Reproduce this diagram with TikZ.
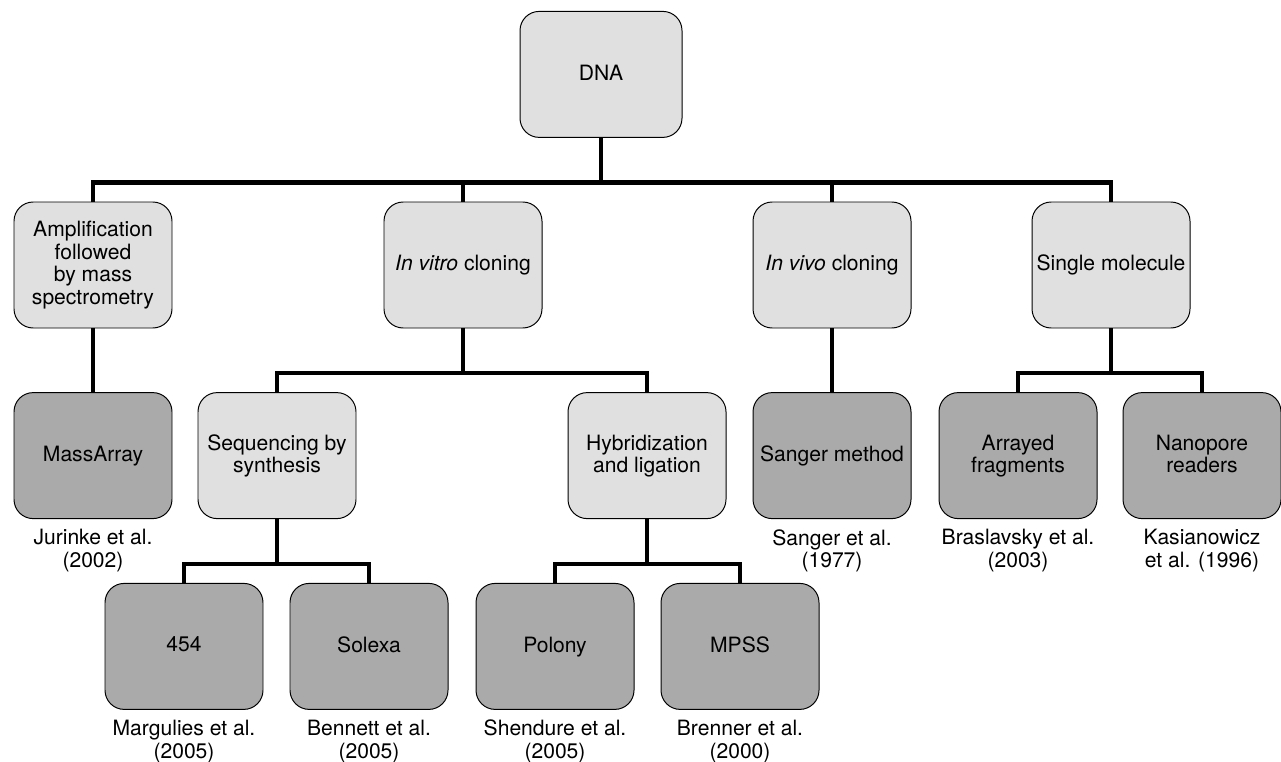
\documentclass[tikz,border=0pt]{standalone}
\usepackage{fontspec}
\setmainfont{TeX Gyre Heros}
\usepackage{tikz}
\usetikzlibrary{positioning,calc}

\definecolor{catgray}{HTML}{E0E0E0}
\definecolor{techgray}{HTML}{AAAAAA}

\begin{document}
\begin{tikzpicture}[
  font=\fontsize{15}{16}\selectfont,
  n/.style={draw=black, line width=0.7pt, rounded corners=0.48cm, align=center,
            minimum width=3.95cm, minimum height=3.15cm, inner sep=1pt, text depth=1mm},
  cat/.style={n, fill=catgray},
  tech/.style={n, fill=techgray},
  ref/.style={align=center, inner sep=0pt, below=0.25cm of #1},
  a/.style={line width=3.2pt, draw=black}
]
\useasboundingbox (0,0) rectangle (32.025,-19.025);

% root and main branches
\node[cat, minimum width=4.05cm] (dna) at (15.025,-1.86) {DNA};
\node[cat] (amp) at (2.325,-6.625) {Amplification\\followed\\by mass\\spectrometry};
\node[cat] (invitro) at (11.575,-6.625) {\textit{In vitro} cloning};
\node[cat] (invivo) at (20.8,-6.625) {\textit{In vivo} cloning};
\node[cat] (single) at (27.775,-6.625) {Single molecule};

% methods
\node[tech] (mass) at (2.325,-11.39) {MassArray};
\node[cat] (sbs) at (6.925,-11.39) {Sequencing by\\synthesis};
\node[cat] (hyb) at (16.175,-11.39) {Hybridization\\and ligation};
\node[tech] (sanger) at (20.8,-11.39) {Sanger method};
\node[tech] (arrayed) at (25.45,-11.39) {Arrayed\\fragments};
\node[tech] (nano) at (30.05,-11.39) {Nanopore\\readers};

\node[tech] (fff) at (4.6,-16.16) {454};
\node[tech] (solexa) at (9.225,-16.16) {Solexa};
\node[tech] (polony) at (13.875,-16.16) {Polony};
\node[tech] (mpss) at (18.5,-16.16) {MPSS};

% references
\node[ref=mass] (massref) {Jurinke et al.\\(2002)};
\node[ref=sanger] (sangerref) {Sanger et al.\\(1977)};
\node[ref=arrayed] (arrayedref) {Braslavsky et al.\\(2003)};
\node[ref=nano] (nanoref) {Kasianowicz\\et al. (1996)};
\node[ref=fff] (fffref) {Margulies et al.\\(2005)};
\node[ref=solexa] (solexaref) {Bennett et al.\\(2005)};
\node[ref=polony] (polonyref) {Shendure et al.\\(2005)};
\node[ref=mpss] (mpssref) {Brenner et al.\\(2000)};

% tree links
\foreach \p/\c in {dna/amp, dna/invitro, dna/invivo, dna/single,
                   amp/mass, invitro/sbs, invitro/hyb, invivo/sanger,
                   single/arrayed, single/nano,
                   sbs/fff, sbs/solexa, hyb/polony, hyb/mpss}
  \draw[a] (\p.south) |- ([yshift=0.475cm]\c.north) -- (\c.north);
\end{tikzpicture}
\end{document}
